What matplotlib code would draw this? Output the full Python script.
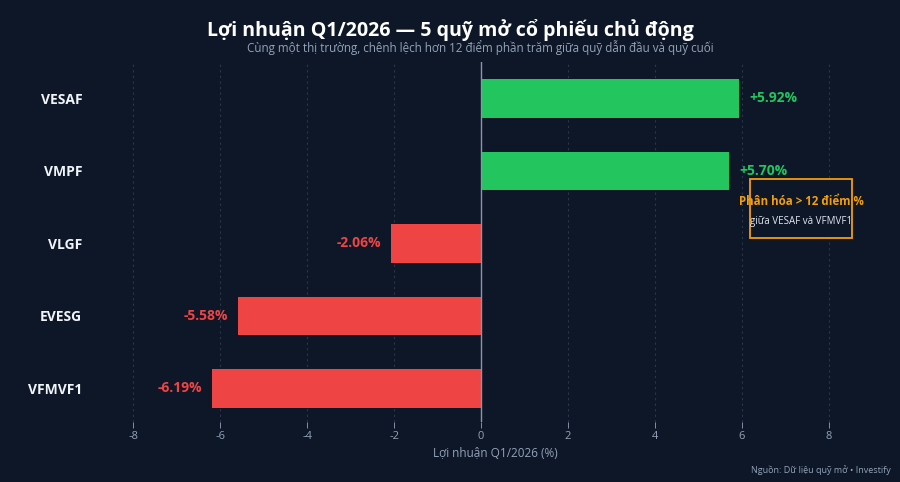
import matplotlib
matplotlib.use('Agg')
import matplotlib.pyplot as plt
from matplotlib.patches import Rectangle

plt.rcParams['font.family'] = ['Open Sans', 'DejaVu Sans']

funds = ['VFMVF1', 'EVESG', 'VLGF', 'VMPF', 'VESAF']
returns = [-6.19, -5.58, -2.06, 5.70, 5.92]
xticks = [-8, -6, -4, -2, 0, 2, 4, 6, 8]

bg = '#0d1728'
green = '#22c55e'
red = '#ef4444'
grey = '#94a3b8'
orange = '#f59e0b'

fig = plt.figure(figsize=(9, 4.82), dpi=100, facecolor=bg)
ax = fig.add_axes([0.133, 0.125, 0.834, 0.746], facecolor=bg)

colors = [green if v >= 0 else red for v in returns]
y = range(len(funds))
ax.barh(y, returns, height=0.53, color=colors, zorder=3)

for yi, v, c in zip(y, returns, colors):
    if v >= 0:
        ax.text(v + 0.25, yi, f'+{v:.2f}%', color=c, fontsize=10, fontweight='bold',
                va='center', ha='left', zorder=4)
    else:
        ax.text(v - 0.23, yi, f'{v:.2f}%', color=c, fontsize=10, fontweight='bold',
                va='center', ha='right', zorder=4)

ax.axvline(0, color='#8a96aa', lw=1, zorder=4)

ax.set_xlim(-8.31, 8.95)
ax.set_ylim(-0.46, 4.5)
ax.set_xticks(xticks)
ax.set_xticklabels([str(t) for t in xticks])
ax.set_yticks(list(y))
ax.set_yticklabels(funds)
ax.grid(axis='x', color='#2b3648', linestyle=(0, (2, 3)), lw=0.8, zorder=0)
for s in ax.spines.values():
    s.set_visible(False)
ax.tick_params(axis='x', colors=grey, labelsize=8, length=4, width=0.6, pad=3)
ax.tick_params(axis='y', length=0, pad=27)
for lbl in ax.get_yticklabels():
    lbl.set_color('#f1f5f9')
    lbl.set_fontweight('bold')
    lbl.set_fontsize(10)
ax.set_xlabel('Lợi nhuận Q1/2026 (%)', color=grey, fontsize=8.5, labelpad=3)

# annotation box
box = Rectangle((6.18, 2.07), 2.35, 0.82, fc=bg, ec=orange, lw=1.3, zorder=5)
ax.add_patch(box)
ax.text(7.36, 2.58, 'Phân hóa > 12 điểm %', color=orange, fontsize=8.3, fontweight='bold',
        ha='center', va='center', zorder=6)
ax.text(7.36, 2.3, 'giữa VESAF và VFMVF1', color='#e2e8f0', fontsize=7,
        ha='center', va='center', zorder=6)

fig.text(0.5, 0.937, 'Lợi nhuận Q1/2026 — 5 quỹ mở cổ phiếu chủ động', color='white',
         fontsize=14.1, fontweight='bold', ha='center', va='center')
fig.text(0.534, 0.902, 'Cùng một thị trường, chênh lệch hơn 12 điểm phần trăm giữa quỹ dẫn đầu và quỹ cuối',
         color=grey, fontsize=8.4, ha='center', va='center')
fig.text(0.99, 0.025, 'Nguồn: Dữ liệu quỹ mở • Investify', color=grey, fontsize=6.5,
         ha='right', va='center')

fig.savefig('out.png', dpi=100, facecolor=bg)
